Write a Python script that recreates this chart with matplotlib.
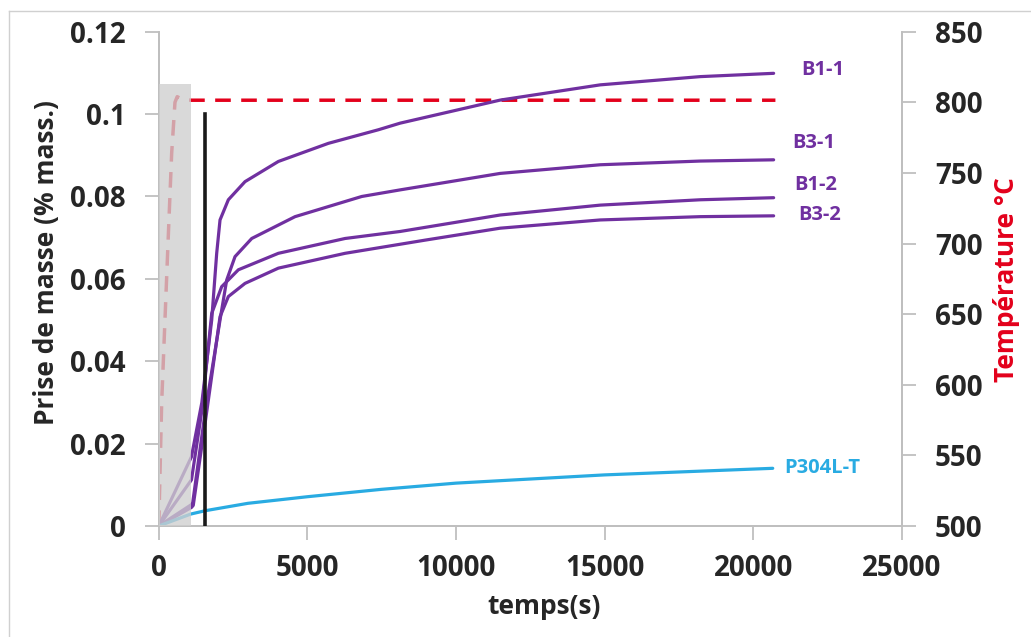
import matplotlib
matplotlib.use("Agg")
import matplotlib.pyplot as plt
from matplotlib.patches import Rectangle
from matplotlib.lines import Line2D

plt.rcParams['font.family'] = ['Open Sans', 'DejaVu Sans']
plt.rcParams['font.weight'] = 'bold'

# mass gain curves (time s, mass %)
b11_t = [0, 1100, 1450, 1781, 1949, 2061, 2341, 2902, 4024, 5707, 7391, 8121, 11488, 14856, 18223, 20690]
b11_m = [0, 0.0168, 0.030, 0.0500, 0.0662, 0.0743, 0.0792, 0.0836, 0.0885, 0.0929, 0.0962, 0.0978, 0.1034, 0.1071, 0.1091, 0.1099]

b31_t = [0, 1100, 1141, 1556, 2061, 2285, 2566, 3128, 4586, 6831, 8121, 11488, 14856, 18223, 20690]
b31_m = [0, 0.0052, 0.0056, 0.0274, 0.0500, 0.0597, 0.0654, 0.0698, 0.0751, 0.0800, 0.0816, 0.0856, 0.0877, 0.0886, 0.0889]

b12_t = [0, 1100, 1450, 1781, 2117, 2678, 4024, 6269, 8121, 11488, 14856, 18223, 20690]
b12_m = [0, 0.0112, 0.028, 0.0516, 0.0581, 0.0622, 0.0662, 0.0698, 0.0715, 0.0755, 0.0779, 0.0792, 0.0797]

b32_t = [0, 1100, 1160, 1580, 2061, 2341, 2902, 4024, 6269, 8963, 11488, 14856, 18223, 20690]
b32_m = [0, 0.0045, 0.0050, 0.0260, 0.0508, 0.0557, 0.0589, 0.0626, 0.0662, 0.0694, 0.0723, 0.0743, 0.0751, 0.0753]

p304_t = [0, 1080, 1560, 3000, 5000, 7500, 10000, 15000, 20660]
p304_m = [0, 0.0029, 0.0037, 0.0055, 0.0071, 0.0089, 0.0104, 0.0124, 0.0140]

# furnace temperature (time s, degC)
temp_t = [0, 97, 320, 434, 545, 620, 800, 1100, 20750]
temp_c = [500, 587, 705, 764, 800, 804, 802, 801.5, 801.5]

labels = ["B1-1", "B3-1", "B1-2", "B3-2", "P304L-T"]
label_t = [22350, 22030, 22090, 22230, 22330]
label_m = [0.1107, 0.0930, 0.0828, 0.0755, 0.0141]

purple = '#7030a0'
blue = '#29abe2'
red = '#e3001b'
grey = '#bfbfbf'
dark = '#262626'

fig = plt.figure(figsize=(10.31, 6.37), dpi=100)
ax = fig.add_axes([0.154, 0.1743, 0.7206, 0.7759])
ax2 = ax.twinx()
ax.set_zorder(ax2.get_zorder() + 1)
ax.patch.set_visible(False)

for tt, mm in [(b11_t, b11_m), (b31_t, b31_m), (b12_t, b12_m), (b32_t, b32_m)]:
    ax.plot(tt, mm, color=purple, lw=2.3, zorder=2, solid_capstyle='round',
            solid_joinstyle='round')
ax.plot(p304_t, p304_m, color=blue, lw=2.3, zorder=2, solid_capstyle='round')

ax2.plot(temp_t, temp_c, color=red, lw=2.5, linestyle=(0, (4.5, 3)))

# grey zone (heating ramp)
ax.add_patch(Rectangle((-80, 0), 1180, 0.1073, facecolor='#cfcfcf', alpha=0.78,
                       edgecolor='none', zorder=3))
# black marker line
ax.plot([1556, 1556], [0, 0.1], color='#1a1a1a', lw=2.6, zorder=4)

colors = [purple, purple, purple, purple, blue]
for lab, x, y, c in zip(labels, label_t, label_m, colors):
    ax.text(x, y, lab, color=c, fontsize=14.5, fontweight='bold', ha='center', va='center')

ax.set_xlim(0, 25000)
ax.set_ylim(0, 0.12)
ax2.set_ylim(500, 850)
ax.set_xticks([0, 5000, 10000, 15000, 20000, 25000])
ax.set_yticks([0, 0.02, 0.04, 0.06, 0.08, 0.1, 0.12])
ax.set_yticklabels(['0', '0.02', '0.04', '0.06', '0.08', '0.1', '0.12'])
ax2.set_yticks([500, 550, 600, 650, 700, 750, 800, 850])

for a in (ax, ax2):
    for s in a.spines.values():
        s.set_color(grey)
        s.set_linewidth(1.3)
    a.spines['top'].set_visible(False)
    a.tick_params(colors=grey, labelcolor=dark, length=10, width=1.3, labelsize=20)
ax.tick_params(axis='y', pad=14)
ax.tick_params(axis='x', pad=10)
ax2.tick_params(axis='y', pad=14)
for lbl in ax.get_xticklabels() + ax.get_yticklabels() + ax2.get_yticklabels():
    lbl.set_fontweight('bold')

fig.text(47 / 1031, 1 - 263 / 637, "Prise de masse (% mass.)", rotation=90, ha='center',
         va='center', fontsize=19, fontweight='bold', color=dark)
fig.text(544 / 1031, 1 - 607 / 637, "temps(s)", ha='center', va='center',
         fontsize=19, fontweight='bold', color=dark)
fig.text(1007 / 1031, 1 - 280 / 637, "Température °C", rotation=90, ha='center',
         va='center', fontsize=19, fontweight='bold', color=red)

# light frame of the original chart area
fig.add_artist(Line2D([8.5 / 1031, 8.5 / 1031], [0, 1 - 11 / 637], color='#d0d0d0', lw=1))
fig.add_artist(Line2D([8.5 / 1031, 1], [1 - 11 / 637, 1 - 11 / 637], color='#d0d0d0', lw=1))

fig.savefig("out.png", dpi=100)
